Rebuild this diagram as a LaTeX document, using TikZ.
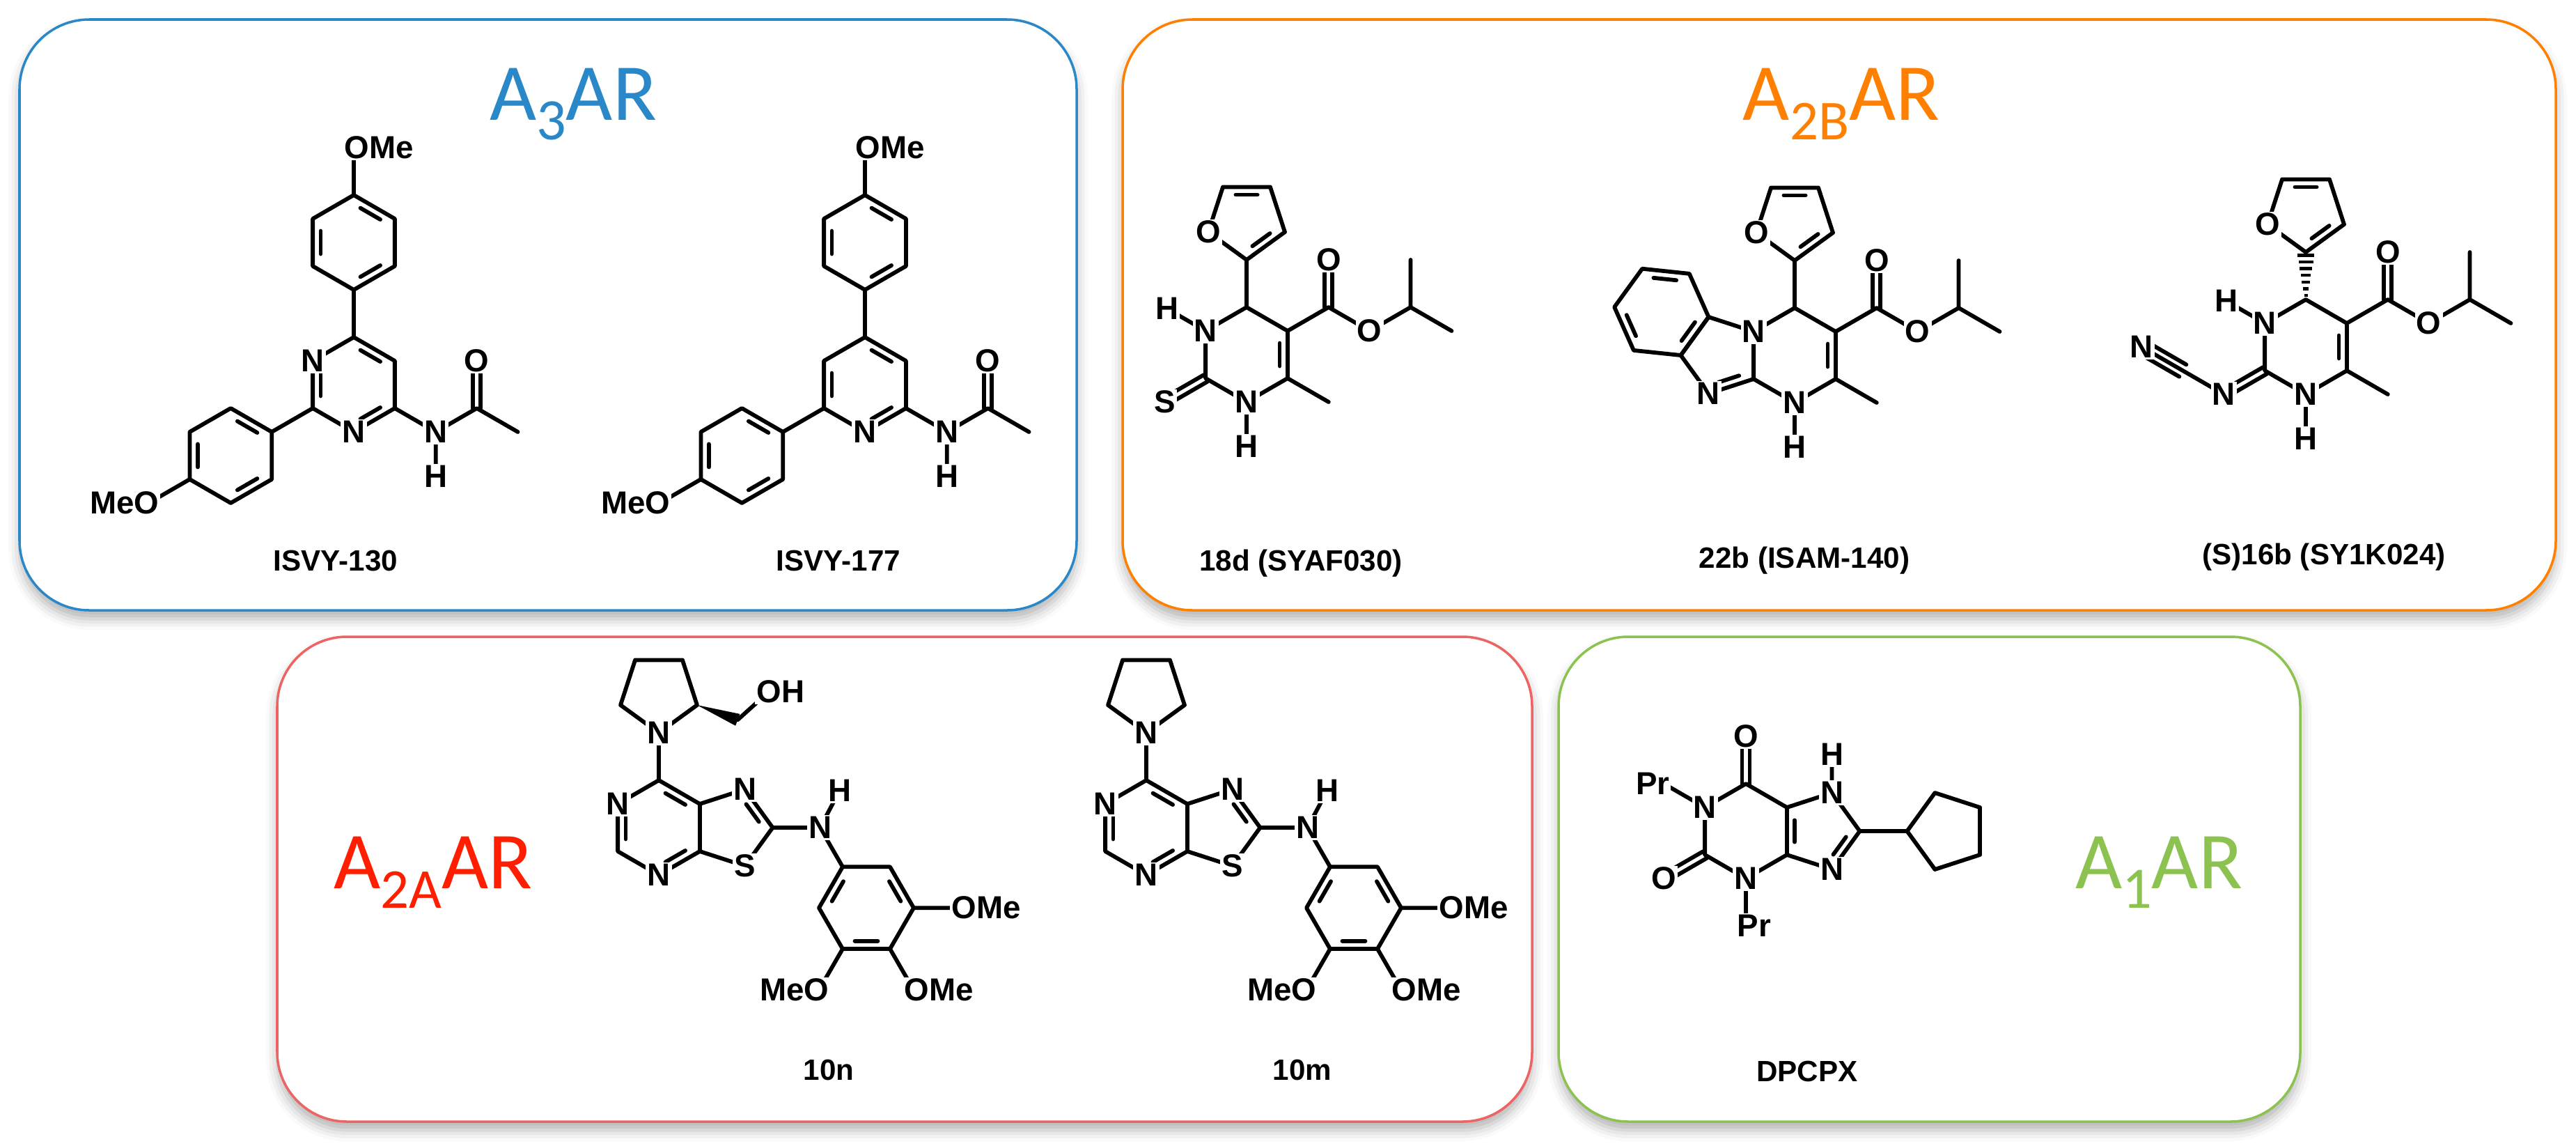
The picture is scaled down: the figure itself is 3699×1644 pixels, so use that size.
\documentclass[tikz,border=0pt]{standalone}
\usepackage{fontspec}
\setmainfont{Liberation Sans}
\newfontfamily\titlefont{Carlito}
\usetikzlibrary{calc,shadows.blur}
\definecolor{cblue}{RGB}{42,136,200}
\definecolor{corange}{RGB}{255,128,0}
\definecolor{credbox}{RGB}{236,100,100}
\definecolor{cred}{RGB}{255,30,0}
\definecolor{cgreen}{RGB}{140,195,80}
\tikzset{
  bond/.style={line width=3.3pt,line cap=round,line join=round},
  atom/.style={fill=white,inner sep=1.2pt,font=\fontsize{26}{26}\selectfont\bfseries},
  lbl/.style={font=\fontsize{24}{24}\selectfont\bfseries},
  box/.style={line width=2pt,rounded corners=2cm,fill=white,
    blur shadow={shadow xshift=0pt,shadow yshift=-7pt,shadow blur radius=9pt,shadow opacity=30}},
  ttl/.style={anchor=base,font=\titlefont\fontsize{66}{66}\selectfont}
}
\newcommand\hexring[3]{\foreach \k in {1,...,6}{\coordinate (#1\k) at ($(#2)+({#3+60*(\k-1)}:68)$);}}
\newcommand\pentring[3]{\foreach \k in {1,...,5}{\coordinate (#1\k) at ($(#2)+({#3+72*(\k-1)}:57.8)$);}}
\newcommand\hexdraw[1]{\draw[bond] (#11)--(#12)--(#13)--(#14)--(#15)--(#16)--cycle;}
\newcommand\inn[3]{\draw[bond] ($($(#1)!.2!(#2)$)!0.24cm!(#3)$) -- ($($(#2)!.2!(#1)$)!0.24cm!(#3)$);}
\newcommand\dbo[2]{\draw[bond] ($(#1)!0.11cm!90:(#2)$)--($(#2)!0.11cm!-90:(#1)$);
  \draw[bond] ($(#1)!0.11cm!-90:(#2)$)--($(#2)!0.11cm!90:(#1)$);}
% ---------- ISVY ----------
\newcommand\isvy[1]{%
  \coordinate (A) at (0,0); \hexring{a}{A}{-90}
  \coordinate (At) at (0,-204); \hexring{at}{At}{-90}
  \coordinate (Ao) at ($(at1)+(-90:68)$);
  \coordinate (Aq) at ($(a5)+(150:68)$); \coordinate (AQ) at ($(Aq)+(150:68)$); \hexring{aq}{AQ}{-90}
  \coordinate (Ao2) at ($(aq5)+(150:68)$);
  \coordinate (An) at ($(a3)+(30:68)$); \coordinate (Ah) at ($(An)+(90:64)$);
  \coordinate (Ac) at ($(An)+(-30:68)$); \coordinate (Aoc) at ($(Ac)+(-90:68)$); \coordinate (Ame) at ($(Ac)+(30:68)$);
  \hexdraw{a}\hexdraw{at}\hexdraw{aq}
  \draw[bond] (a1)--(at4) (at1)--(Ao) (a5)--(aq2) (aq5)--(Ao2) (a3)--(An)--(Ac)--(Ame) (An)--(Ah);
  \dbo{Ac}{Aoc}
  \inn{a1}{a2}{A}\inn{a3}{a4}{A}\inn{a5}{a6}{A}
  \inn{at1}{at2}{At}\inn{at3}{at4}{At}\inn{at5}{at6}{At}
  \inn{aq1}{aq2}{AQ}\inn{aq3}{aq4}{AQ}\inn{aq5}{aq6}{AQ}
  \node[atom] (iN3) at (a4) {N};
  #1
  \node[atom] (iNH) at (An) {N};
  \node[atom] (iH) at (Ah) {H};
  \node[atom] (iO) at (Aoc) {O};
  \node[atom] (iOMe) at ($(Ao)+(36,0)$) {OMe};
  \node[atom] (iMeO) at ($(Ao2)+(-35,0)$) {MeO};
}
% ---------- DHPM ----------
\newcommand\dhpm{%
  \coordinate (C) at (0,0); \hexring{c}{C}{-90}
  \coordinate (F) at ($(c1)+(-90:68)$); \coordinate (FC) at ($(F)+(-90:57.8)$); \pentring{f}{FC}{90}
  \coordinate (E) at ($(c2)+(-30:68)$); \coordinate (Eo) at ($(E)+(-90:68)$);
  \coordinate (Es) at ($(E)+(30:68)$); \coordinate (Ei) at ($(Es)+(-30:68)$);
  \coordinate (Em1) at ($(Ei)+(-90:68)$); \coordinate (Em2) at ($(Ei)+(30:68)$);
  \coordinate (Me) at ($(c3)+(30:68)$); \coordinate (H4) at ($(c4)+(90:64)$);
  \hexdraw{c}
  \draw[bond] (f1)--(f2)--(f3)--(f4)--(f5)--cycle;
  \inn{f3}{f4}{FC}\inn{f5}{f1}{FC}
  \draw[bond] (c2)--(E)--(Es)--(Ei)--(Em1) (Ei)--(Em2) (c3)--(Me) (c4)--(H4);
  \dbo{E}{Eo}
  \inn{c2}{c3}{C}
  \node[atom] (dFO) at (f2) {O};
  \node[atom] (dEO) at (Eo) {O};
  \node[atom] (dEs) at (Es) {O};
  \node[atom] (dN3) at (c4) {N};
  \node[atom] (dH3) at (H4) {H};
}
% ---------- thiazolopyrimidine ----------
\newcommand\thz{%
  \coordinate (E) at (0,0); \hexring{e}{E}{-90}
  \coordinate (T) at ($($(e2)!.5!(e3)$)+(0:46.8)$); \pentring{t}{T}{144}
  \coordinate (Nh) at ($(t4)+(0:68)$); \coordinate (Hh) at ($(Nh)+(-62:60)$);
  \coordinate (Ar) at ($(Nh)+(60:65)$); \coordinate (AR) at ($(Ar)+(60:68)$); \hexring{r}{AR}{0}
  \coordinate (O1) at ($(r1)+(0:68)$); \coordinate (O2) at ($(r2)+(60:68)$); \coordinate (O3) at ($(r3)+(120:68)$);
  \coordinate (Np) at ($(e1)+(-90:68)$); \coordinate (PC) at ($(Np)+(-90:57.8)$); \pentring{p}{PC}{90}
  \hexdraw{e}\hexdraw{r}
  \draw[bond] (e2)--(t3)--(t4)--(t5)--(e3) (t4)--(Nh)--(Ar) (Nh)--(Hh) (r1)--(O1) (r2)--(O2) (r3)--(O3) (e1)--(Np);
  \draw[bond] (p1)--(p2)--(p3)--(p4)--(p5)--cycle;
  \inn{e1}{e2}{E}\inn{e3}{e4}{E}\inn{e5}{e6}{E}\inn{t3}{t4}{T}
  \inn{r6}{r1}{AR}\inn{r2}{r3}{AR}\inn{r4}{r5}{AR}
  \node[atom] (tN1) at (e6) {N};
  \node[atom] (tN2) at (e4) {N};
  \node[atom] (tN3) at (t3) {N};
  \node[atom] (tS) at (t5) {S};
  \node[atom] (tNH) at (Nh) {N};
  \node[atom] (tH) at (Hh) {H};
  \node[atom] (tNp) at (Np) {N};
  \node[atom] (tO1) at ($(O1)+(36,0)$) {OMe};
  \node[atom] (tO2) at ($(O2)+(36,0)$) {OMe};
  \node[atom] (tO3) at ($(O3)+(-35,0)$) {MeO};
}
\begin{document}
\begin{tikzpicture}[x=0.02cm,y=-0.02cm]
\useasboundingbox (0,0) rectangle (3699,1644);
% boxes
\draw[box,draw=cblue] (28,28) rectangle (1546,876);
\draw[box,draw=corange] (1612,28) rectangle (3670,876);
\draw[box,draw=credbox] (398,914) rectangle (2200,1610);
\draw[box,draw=cgreen] (2238,914) rectangle (3303,1610);
% titles
\node[ttl,text=cblue] (t3) at (823,172) {A\raisebox{-16pt}{\fontsize{48}{48}\selectfont 3}AR};
\node[ttl,text=corange] (t2b) at (2644,172) {A\raisebox{-16pt}{\fontsize{46}{46}\selectfont 2B}AR};
\node[ttl,text=cred] (t2a) at (622,1275) {A\raisebox{-16pt}{\fontsize{46}{46}\selectfont 2A}AR};
\node[ttl,text=cgreen] (t1) at (3100,1275) {A\raisebox{-16pt}{\fontsize{48}{48}\selectfont 1}AR};
% ISVY-130 / 177
\begin{scope}[shift={(508,552)}] \isvy{\node[atom] (iN1) at (a6) {N};} \end{scope}
\begin{scope}[shift={(1242,552)}] \isvy{} \end{scope}
\node[lbl] (l1) at (482,805) {ISVY-130};
\node[lbl] (l2) at (1204,805) {ISVY-177};
% 18d
\begin{scope}[shift={(1790,509)}]
  \dhpm
  \coordinate (H6) at ($(c6)+(210:64)$); \coordinate (S) at ($(c5)+(150:68)$);
  \draw[bond] (c1)--(F) (c6)--(H6);
  \dbo{c5}{S}
  \node[atom] (eN1) at (c6) {N};
  \node[atom] (eH1) at (H6) {H};
  \node[atom] (eS) at (S) {S};
\end{scope}
\node[lbl] (l3) at (1868,809) {18d (SYAF030)};
% 22b
\begin{scope}[shift={(2577,510)}]
  \dhpm
  \draw[bond] (c1)--(F);
  \coordinate (I) at ($($(c5)!.5!(c6)$)+(180:46.8)$); \pentring{i}{I}{-36}
  \coordinate (B) at ($(I)+(216:105.7)$); \hexring{b}{B}{6}
  \draw[bond] (c6)--(i5)--(i4)--(i3)--(c5);
  \hexdraw{b}
  \inn{i2}{i3}{I}
  \inn{b5}{b6}{B}\inn{b3}{b4}{B}\inn{b1}{b2}{B}
  \node[atom] (bN1) at (c6) {N};
  \node[atom] (bN2) at (i3) {N};
\end{scope}
\node[lbl] (l4) at (2591,805) {22b (ISAM-140)};
% (S)16b
\begin{scope}[shift={(3311,498)}]
  \dhpm
  \foreach \i in {0,...,6}{\pgfmathsetmacro\yy{-74-\i*9.6}\pgfmathsetmacro\ww{2.5+\i*1.6}
    \draw[line width=2.6pt] (-\ww,\yy)--(\ww,\yy);}
  \coordinate (H6) at ($(c6)+(210:64)$);
  \coordinate (Nx) at ($(c5)+(150:68)$); \coordinate (Cx) at ($(Nx)+(210:68)$); \coordinate (Nt) at ($(Cx)+(210:68)$);
  \draw[bond] (c6)--(H6) (Nx)--(Cx)--(Nt);
  \draw[bond] ($(Cx)!0.2cm!90:(Nt)$)--($(Nt)!0.2cm!-90:(Cx)$);
  \draw[bond] ($(Cx)!0.2cm!-90:(Nt)$)--($(Nt)!0.2cm!90:(Cx)$);
  \dbo{c5}{Nx}
  \node[atom] (sN1) at (c6) {N};
  \node[atom] (sH1) at (H6) {H};
  \node[atom] (sNx) at (Nx) {N};
  \node[atom] (sNt) at (Nt) {N};
\end{scope}
\node[lbl] (l5) at (3337,800) {(S)16b (SY1K024)};
% 10n
\begin{scope}[shift={(946,1188)}]
  \thz
  \coordinate (W) at ($(p5)+(20:62)$); \coordinate (Woh) at ($(W)+(-42:60)$);
  \fill (p5) -- ($(W)!0.18cm!90:(p5)$) -- ($(W)!0.18cm!-90:(p5)$) -- cycle;
  \draw[bond] (W)--(Woh);
  \node[atom] (nOH) at ($(Woh)+(17,0)$) {OH};
\end{scope}
\node[lbl] (l6) at (1190,1536) {10n};
% 10m
\begin{scope}[shift={(1646,1188)}]
  \thz
\end{scope}
\node[lbl] (l7) at (1870,1536) {10m};
% DPCPX
\begin{scope}[shift={(2507,1193)}]
  \coordinate (D) at (0,0); \hexring{d}{D}{-90}
  \coordinate (O1) at ($(d1)+(-90:68)$); \coordinate (Pr1) at ($(d6)+(210:68)$);
  \coordinate (O2) at ($(d5)+(150:68)$); \coordinate (Pr2) at ($(d4)+(90:68)$);
  \coordinate (J) at ($($(d2)!.5!(d3)$)+(0:46.8)$); \pentring{j}{J}{144}
  \coordinate (H7) at ($(j3)+(-90:55)$);
  \coordinate (K0) at ($(j4)+(0:68)$); \coordinate (K) at ($(K0)+(0:57.8)$); \pentring{k}{K}{180}
  \hexdraw{d}
  \draw[bond] (d2)--(j3)--(j4)--(j5)--(d3) (j3)--(H7) (j4)--(k1) (d6)--(Pr1) (d4)--(Pr2);
  \draw[bond] (k1)--(k2)--(k3)--(k4)--(k5)--cycle;
  \dbo{d1}{O1}\dbo{d5}{O2}
  \inn{d2}{d3}{J}\inn{j4}{j5}{J}
  \node[atom] (xO1) at (O1) {O};
  \node[atom] (xO2) at (O2) {O};
  \node[atom] (xN1) at (d6) {N};
  \node[atom] (xN3) at (d4) {N};
  \node[atom] (xN7) at (j3) {N};
  \node[atom] (xN9) at (j5) {N};
  \node[atom] (xH) at (H7) {H};
  \node[atom] (xPr1) at ($(Pr1)+(-16,0)$) {Pr};
  \node[atom] (xPr2) at ($(Pr2)+(12,0)$) {Pr};
\end{scope}
\node[lbl] (l8) at (2595,1538) {DPCPX};
\end{tikzpicture}
\end{document}
